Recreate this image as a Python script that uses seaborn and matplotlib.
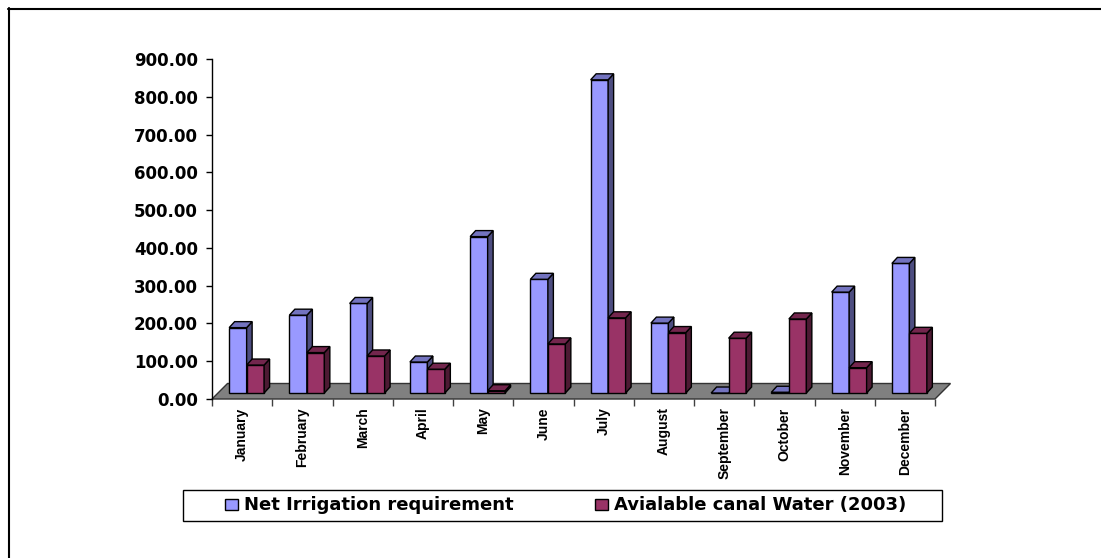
import matplotlib
matplotlib.use('Agg')
import matplotlib.pyplot as plt
import matplotlib.ticker as mticker
import numpy as np
import pandas as pd
import seaborn as sns
from matplotlib.patches import Polygon, Rectangle, Patch
from matplotlib.lines import Line2D

# data
months = ['January', 'February', 'March', 'April', 'May', 'June', 'July',
          'August', 'September', 'October', 'November', 'December']
net_irrigation = [173, 206, 237, 82, 414, 301, 829, 185, 0, 2, 267, 343]
canal_water = [74, 107, 98, 63, 6, 130, 199, 160, 145, 196, 67, 158]
series_names = ['Net Irrigation requirement', 'Avialable canal Water (2003)']

front_colors = ['#9999FF', '#993366']
side_colors = ['#4D4D80', '#4D1A33']
top_colors = ['#7373BF', '#73264D']

df = pd.DataFrame({
    'month': months * 2,
    'value': net_irrigation + canal_water,
    'series': [series_names[0]] * len(months) + [series_names[1]] * len(months),
})

sns.set_style('white')
plt.rcParams['font.family'] = ['DejaVu Sans']
plt.rcParams['font.weight'] = 'bold'
plt.rcParams['text.color'] = 'black'

W, H = 1101, 558
fig = plt.figure(figsize=(W / 100, H / 100), dpi=100)
ax = fig.add_axes([212 / W, 159 / H, 723 / W, 340 / H])

sns.barplot(data=df, x='month', y='value', hue='series', palette=front_colors,
            saturation=1, width=0.58, gap=0, edgecolor='black', linewidth=1,
            errorbar=None, legend=False, ax=ax)

ax.set_xlim(-0.5, len(months) - 0.5)
ax.set_ylim(0, 900)

# pixel -> data unit conversion for the pseudo 3D offsets
p0 = ax.transData.transform((0, 0))
p1 = ax.transData.transform((1, 1))
ux = 1 / (p1[0] - p0[0])
uy = 1 / (p1[1] - p0[1])

fx, fy = 4.5 * ux, 6 * uy      # bars sit a bit back on the floor
dx, dy = 5.5 * ux, 6 * uy      # bar depth

n = len(months)
bars = list(ax.patches)
for i, p in enumerate(bars):
    hue_i = i // n
    cat_i = i % n
    z = 3 + cat_i * 2 + hue_i
    x0 = p.get_x() + fx
    w = p.get_width()
    h = p.get_height()
    p.set_x(x0)
    p.set_y(fy)
    p.set_zorder(z)
    top = fy + h
    side = Polygon([(x0 + w, fy), (x0 + w, top), (x0 + w + dx, top + dy), (x0 + w + dx, fy + dy)],
                   closed=True, facecolor=side_colors[hue_i], edgecolor='black', lw=1, zorder=z)
    cap = Polygon([(x0, top), (x0 + w, top), (x0 + w + dx, top + dy), (x0 + dx, top + dy)],
                  closed=True, facecolor=top_colors[hue_i], edgecolor='black', lw=1, zorder=z)
    ax.add_patch(side)
    ax.add_patch(cap)

# grey floor
fdx, fdy = 15.5 * ux, 15.5 * uy
floor = Polygon([(-0.5, 0), (n - 0.5, 0), (n - 0.5 + fdx, fdy), (-0.5 + fdx, fdy)],
                closed=True, facecolor='#808080', edgecolor='#333333', lw=1,
                zorder=1, clip_on=False)
ax.add_patch(floor)

for s in ['top', 'right', 'bottom']:
    ax.spines[s].set_visible(False)
ax.spines['left'].set_color('black')
ax.spines['left'].set_linewidth(1)
ax.spines['left'].set_zorder(50)

ax.yaxis.set_major_locator(mticker.MultipleLocator(100))
ax.yaxis.set_major_formatter(mticker.FormatStrFormatter('%.2f'))
ax.tick_params(axis='y', direction='out', length=4, width=1, color='black',
               labelcolor='black', labelsize=12, pad=6, left=True)
ax.set_xticks(range(n))
ax.set_xticklabels(months, rotation=90, fontsize=10, fontweight='bold',
                   family=['Liberation Sans', 'DejaVu Sans'], color='black')
ax.xaxis.set_minor_locator(mticker.FixedLocator(np.arange(-0.5, n, 1)))
ax.tick_params(axis='x', which='major', length=0, pad=6, bottom=True)
ax.tick_params(axis='x', which='minor', length=5, width=1, color='#404040', bottom=True)
for lab in ax.get_yticklabels():
    lab.set_fontweight('bold')
ax.set_xlabel('')
ax.set_ylabel('')
ax.patch.set_alpha(0)

# legend
fig.add_artist(Rectangle((183 / W, (H - 521) / H), 759 / W, 31 / H, transform=fig.transFigure,
                         fill=False, edgecolor='black', lw=1))
handles = [Patch(facecolor=c, edgecolor='black', lw=1) for c in front_colors]
fig.legend(handles, series_names, ncol=2, loc='center',
           bbox_to_anchor=(566 / W, (H - 505.5) / H), frameon=False,
           handlelength=0.72, handleheight=0.55, handletextpad=0.33, columnspacing=4.5,
           prop={'size': 13, 'weight': 'bold'})

# outer chart border (only top and left edges show)
fig.add_artist(Line2D([8 / W, 1], [1 - 9 / H, 1 - 9 / H], transform=fig.transFigure, color='black', lw=1.5))
fig.add_artist(Line2D([9 / W, 9 / W], [0, 1 - 8 / H], transform=fig.transFigure, color='black', lw=1.5))

fig.savefig('out.png', dpi=100)
